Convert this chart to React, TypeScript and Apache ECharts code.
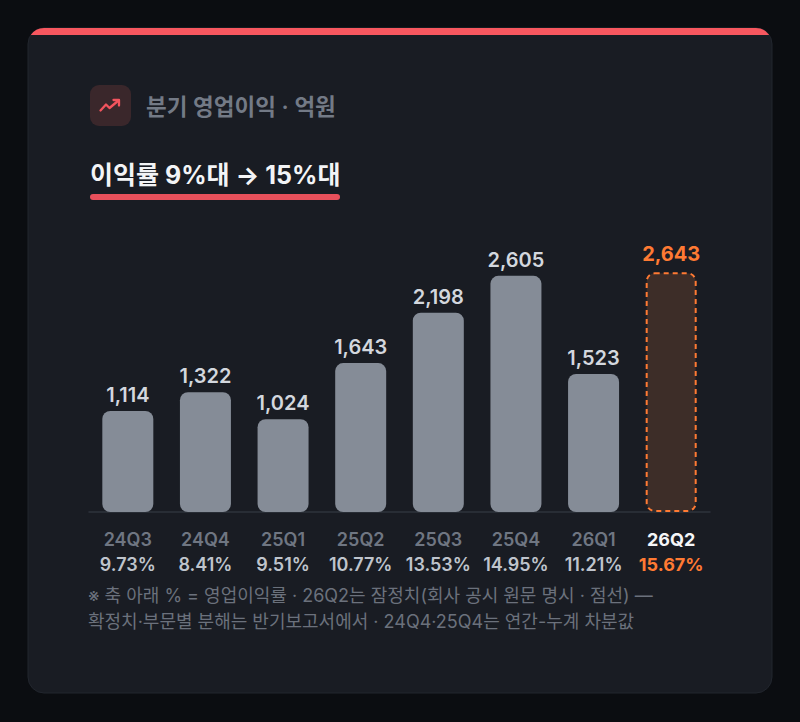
import React, { useEffect, useRef } from "react";
import * as echarts from "echarts";

const categories = ["24Q3", "24Q4", "25Q1", "25Q2", "25Q3", "25Q4", "26Q1", "26Q2"];
const operatingProfit = [1114, 1322, 1024, 1643, 2198, 2605, 1523, 2643];
const operatingMargin = ["9.73%", "8.41%", "9.51%", "10.77%", "13.53%", "14.95%", "11.21%", "15.67%"];
const provisionalIndex = 7;
const titleText = "분기 영업이익 · 억원";
const headlineText = "이익률 9%대 → 15%대";
const footnoteLines = [
  "※ 축 아래 % = 영업이익률 · 26Q2는 잠정치(회사 공시 원문 명시 · 점선) —",
  "확정치·부문별 분해는 반기보고서에서 · 24Q4·25Q4는 연간-누계 차분값",
];

const FONT = "Inter, 'Noto Sans CJK KR', sans-serif";

// top red band of the card (follows the card's rounded corners)
echarts.graphic.registerShape(
  "cardTopBand",
  echarts.graphic.extendPath(
    "M30.77 35 A16 16 0 0 1 44 28 L756 28 A16 16 0 0 1 769.23 35 Z",
    {}
  )
);

export default function App() {
  const ref = useRef<HTMLDivElement>(null);

  useEffect(() => {
    if (!ref.current) return;
    const chart = echarts.init(ref.current, undefined, { renderer: "svg" });

    const fmt = (v: number) => v.toLocaleString("en-US");

    const option: any = {
      animation: false,
      backgroundColor: "#0b0d11",
      textStyle: { fontFamily: FONT },
      graphic: [
        {
          type: "rect",
          z: -10,
          shape: { x: 28, y: 28, width: 744, height: 665, r: 16 },
          style: {
            fill: "#191c23",
            stroke: "#22262e",
            lineWidth: 1,
          },
        },
        {
          type: "cardTopBand",
          z: -9,
          x: 0,
          y: 0,
          style: { fill: "#f7575f" },
        },
        {
          type: "rect",
          z: -8,
          shape: { x: 90, y: 85, width: 41, height: 41, r: 9 },
          style: { fill: "#3a272b" },
        },
        {
          type: "polyline",
          z: -7,
          shape: { points: [[100.5, 110.5], [106, 104.5], [109.5, 108], [118.5, 100.5]] },
          style: { stroke: "#f2545e", fill: null, lineWidth: 2.3, lineCap: "round", lineJoin: "round" },
        },
        {
          type: "polyline",
          z: -7,
          shape: { points: [[113.5, 100], [119, 100], [119, 105.5]] },
          style: { stroke: "#f2545e", fill: null, lineWidth: 2.3, lineCap: "round", lineJoin: "round" },
        },
        {
          type: "text",
          z: -7,
          style: {
            text: titleText,
            x: 146,
            y: 106,
            fill: "#737a86",
            fontSize: 22.5,
            fontWeight: 600,
            fontFamily: FONT,
            align: "left",
            verticalAlign: "middle",
            textAlign: "left",
            textVerticalAlign: "middle",
          },
        },
        {
          type: "text",
          z: -7,
          style: {
            text: headlineText,
            x: 90,
            y: 175,
            fill: "#f3f4f6",
            fontSize: 25,
            fontWeight: 700,
            fontFamily: FONT,
            align: "left",
            verticalAlign: "middle",
            textAlign: "left",
            textVerticalAlign: "middle",
          },
        },
        {
          type: "rect",
          z: -7,
          shape: { x: 90, y: 194, width: 250, height: 6, r: 3 },
          style: { fill: "#e8505b" },
        },
        ...footnoteLines.map((t, i) => ({
          type: "text",
          z: -7,
          style: {
            text: t,
            x: 88,
            y: 595 + i * 26,
            fill: "#6b717c",
            fontSize: 18,
            fontWeight: 400,
            fontFamily: FONT,
            align: "left",
            verticalAlign: "middle",
            textAlign: "left",
            textVerticalAlign: "middle",
          },
        })),
      ],
      grid: { left: 89, width: 621, top: 240, height: 272, containLabel: false },
      xAxis: {
        type: "category",
        data: categories,
        axisLine: { show: true, lineStyle: { color: "#2e333c", width: 1.5 } },
        axisTick: { show: false },
        axisLabel: {
          interval: 0,
          margin: 15,
          formatter: (value: string, idx: number) =>
            idx === provisionalIndex
              ? `{ch|${value}}\n{ph|${operatingMargin[idx]}}`
              : `{c|${value}}\n{p|${operatingMargin[idx]}}`,
          rich: {
            c: { fontSize: 18, fontWeight: 600, color: "#6f7682", lineHeight: 25, fontFamily: FONT },
            p: { fontSize: 18, fontWeight: 600, color: "#bfc4cc", lineHeight: 25, fontFamily: FONT },
            ch: { fontSize: 18, fontWeight: 700, color: "#f5f6f8", lineHeight: 25, fontFamily: FONT },
            ph: { fontSize: 18, fontWeight: 700, color: "#ff7a33", lineHeight: 25, fontFamily: FONT },
          },
        },
      },
      yAxis: {
        type: "value",
        min: 0,
        max: 3000,
        show: false,
        splitLine: { show: false },
      },
      series: [
        {
          type: "bar",
          barWidth: 51,
          data: operatingProfit.map((v, i) =>
            i === provisionalIndex
              ? {
                  value: v,
                  itemStyle: {
                    color: "#3d2d28",
                    borderColor: "#ff7a33",
                    borderWidth: 2,
                    borderType: [5, 4],
                    borderRadius: 8,
                  },
                  label: { color: "#ff7a33", fontWeight: 700, distance: 8 },
                }
              : { value: v }
          ),
          itemStyle: { color: "#858c97", borderRadius: 8 },
          label: {
            show: true,
            position: "top",
            distance: 6,
            formatter: (p: any) => fmt(p.value),
            fontSize: 20,
            fontWeight: 600,
            color: "#d3d7de",
            fontFamily: FONT,
          },
        },
      ],
    };

    chart.setOption(option);
    return () => chart.dispose();
  }, []);

  return (
    <div
      ref={ref}
      style={{ position: "absolute", left: 0, top: 0, width: 800, height: 722, background: "#0b0d11" }}
    />
  );
}
